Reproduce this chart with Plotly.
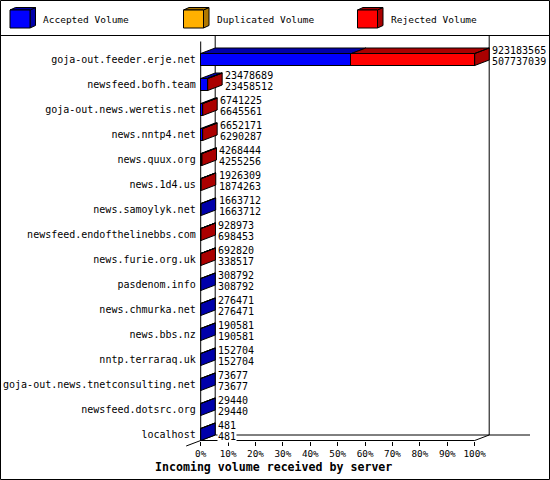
import plotly.graph_objects as go

# ---------------- data ----------------
hosts = [
    "goja-out.feeder.erje.net",
    "newsfeed.bofh.team",
    "goja-out.news.weretis.net",
    "news.nntp4.net",
    "news.quux.org",
    "news.1d4.us",
    "news.samoylyk.net",
    "newsfeed.endofthelinebbs.com",
    "news.furie.org.uk",
    "pasdenom.info",
    "news.chmurka.net",
    "news.bbs.nz",
    "nntp.terraraq.uk",
    "goja-out.news.tnetconsulting.net",
    "newsfeed.dotsrc.org",
    "localhost",
]
total_volume = [923183565, 23478689, 6741225, 6652171, 4268444, 1926309, 1663712,
                928973, 692820, 308792, 276471, 190581, 152704, 73677, 29440, 481]
accepted_volume = [507737039, 23458512, 6645561, 6290287, 4255256, 1874263, 1663712,
                   698453, 338517, 308792, 276471, 190581, 152704, 73677, 29440, 481]
duplicated_volume = [0, 0, 0, 0, 0, 0, 0, 0, 0, 0, 0, 0, 0, 0, 0, 0]
series_names = ["Accepted Volume", "Duplicated Volume", "Rejected Volume"]
tick_values = [0, 10, 20, 30, 40, 50, 60, 70, 80, 90, 100]
tick_labels = ["0%", "10%", "20%", "30%", "40%", "50%", "60%", "70%", "80%", "90%", "100%"]
x_title = "Incoming volume received by server"

# ---------------- styles ----------------
FRONT = ["#0000ff", "#ffb000", "#ff0000"]
DARK = ["#0000aa", "#b07800", "#aa0000"]
MONO = "DejaVu Sans Mono"
W, H = 550, 480
ML, MR, MT, MB = 180, 20, 36, 28
PW, PH = W - ML - MR, H - MT - MB
PX_PER_PCT = 2.74
X0_PX = 200.7
ROW_PX = 25.0
ROW0_PX = 59.5
DX = 14.5 / PX_PER_PCT      # depth in x (percent units)
DY = 5.5 / ROW_PX           # depth in y (row units)
HALF = 0.24                 # half bar thickness

x_lo = -(X0_PX - ML) / PX_PER_PCT
x_hi = x_lo + PW / PX_PER_PCT
y_top = (MT - ROW0_PX) / ROW_PX
y_bot = (H - MB - ROW0_PX) / ROW_PX


def px(x):
    return (x - ML) / PW


def py(y):
    return (H - MB - y) / PH


vmax = max(total_volume)
n = len(hosts)
idx = list(range(n))
acc_pct = [a / vmax * 100 for a in accepted_volume]
dup_pct = [d / vmax * 100 for d in duplicated_volume]
rej_pct = [(t - a - d) / vmax * 100 for t, a, d in zip(total_volume, accepted_volume, duplicated_volume)]
tot_pct = [t / vmax * 100 for t in total_volume]

fig = go.Figure()

# front faces
for k, (name, vals) in enumerate(zip(series_names, [acc_pct, dup_pct, rej_pct])):
    fig.add_trace(go.Bar(
        y=idx, x=vals, orientation="h", width=2 * HALF, name=name,
        marker=dict(color=FRONT[k], line=dict(color="black", width=0 if k == 1 else 1)),
        showlegend=False, hoverinfo="skip",
    ))

# 3D top and side faces
polys = {0: ([], []), 1: ([], []), 2: ([], [])}
for i in idx:
    segs = []
    start = 0.0
    for k, v in enumerate([acc_pct[i], dup_pct[i], rej_pct[i]]):
        segs.append((start, start + v, k, v))
        start += v
    yt = i - HALF
    yb = i + HALF
    last_k = 0
    for s, e, k, v in segs:
        if v <= 0:
            continue
        last_k = k
        xs, ys = polys[k]
        xs += [s, e, e + DX, s + DX, s, None]
        ys += [yt, yt, yt - DY, yt - DY, yt, None]
    e = tot_pct[i]
    xs, ys = polys[last_k]
    xs += [e, e, e + DX, e + DX, e, None]
    ys += [yt, yb, yb - DY, yt - DY, yt, None]

for k in range(3):
    xs, ys = polys[k]
    if xs:
        fig.add_trace(go.Scatter(
            x=xs, y=ys, mode="lines", fill="toself", fillcolor=DARK[k],
            line=dict(color="black", width=1), showlegend=False, hoverinfo="skip",
        ))

# walls / floor (data-referenced shapes below traces)
floor_front = n - 1 + HALF
floor_back = floor_front - DY
wall_lines = [
    (DX, y_top, DX, floor_back),
    (0, y_top + DY, 0, floor_front),
    (100 + DX, y_top, 100 + DX, floor_back),
    (DX, floor_back, x_hi, floor_back),
    (0, floor_front, 100, floor_front),
    (-DX, floor_front + DY, DX, floor_back),
    (100, floor_front, 100 + DX, floor_back),
]
shapes = []
for a, b, c, d in wall_lines:
    shapes.append(dict(type="line", xref="x", yref="y", x0=a, y0=b, x1=c, y1=d,
                       line=dict(color="black", width=1), layer="below"))

# border and separator
shapes.append(dict(type="rect", xref="paper", yref="paper", x0=px(0.5), x1=px(549.5),
                   y0=py(0.5), y1=py(479.5), line=dict(color="black", width=1)))
shapes.append(dict(type="line", xref="paper", yref="paper", x0=px(0), x1=px(550),
                   y0=py(35.5), y1=py(35.5), line=dict(color="black", width=1)))

annotations = []
# legend with 3D cubes
leg_x = [10, 183.5, 357.5]
for k, name in enumerate(series_names):
    x0 = leg_x[k]
    fx0, fx1, fy0, fy1 = x0, x0 + 20, 10, 28
    ddx, ddy = 5.5, 2.5
    shapes.append(dict(type="path", xref="paper", yref="paper",
                       path=f"M{px(fx1)},{py(fy0)} L{px(fx1+ddx)},{py(fy0-ddy)} L{px(fx1+ddx)},{py(fy1-ddy)} L{px(fx1)},{py(fy1)} Z",
                       fillcolor=DARK[k], line=dict(color="black", width=1)))
    shapes.append(dict(type="path", xref="paper", yref="paper",
                       path=f"M{px(fx0)},{py(fy0)} L{px(fx0+ddx)},{py(fy0-ddy)} L{px(fx1+ddx)},{py(fy0-ddy)} L{px(fx1)},{py(fy0)} Z",
                       fillcolor=DARK[k], line=dict(color="black", width=1)))
    shapes.append(dict(type="rect", xref="paper", yref="paper", x0=px(fx0), x1=px(fx1),
                       y0=py(fy0), y1=py(fy1), fillcolor=FRONT[k], line=dict(color="black", width=1)))
    annotations.append(dict(text=name, xref="paper", yref="paper", x=px(x0 + 31), y=py(20),
                            xanchor="left", yanchor="middle", showarrow=False,
                            font=dict(family=MONO, size=9.5, color="black")))

# value labels
for i in idx:
    annotations.append(dict(text=str(total_volume[i]), x=tot_pct[i] + DX, y=i - 0.38,
                            xref="x", yref="y", xanchor="left", yanchor="middle", xshift=2,
                            showarrow=False, borderpad=0,
                            font=dict(family=MONO, size=10, color="black")))
    annotations.append(dict(text=str(accepted_volume[i]), x=tot_pct[i] + DX, y=i + 0.06,
                            xref="x", yref="y", xanchor="left", yanchor="middle", xshift=2,
                            showarrow=False, borderpad=0, bgcolor="white",
                            font=dict(family=MONO, size=10, color="black")))

# x title
annotations.append(dict(text="<b>" + x_title + "</b>", xref="paper", yref="paper",
                        x=px(273.5), y=py(466.5), xanchor="center", yanchor="middle",
                        showarrow=False, font=dict(family=MONO, size=11.6, color="black")))

fig.update_layout(
    template="none",
    width=W, height=H, margin=dict(l=ML, r=MR, t=MT, b=MB, pad=0, autoexpand=False),
    paper_bgcolor="white", plot_bgcolor="white", barmode="stack", bargap=0,
    showlegend=False, shapes=shapes, annotations=annotations,
    xaxis=dict(range=[x_lo, x_hi], tickvals=tick_values, ticktext=tick_labels,
               ticks="outside", ticklen=4, tickcolor="black", tickwidth=1, showgrid=False,
               zeroline=False, showline=False, anchor="free", automargin=False,
               position=(H - MB - (ROW0_PX + ROW_PX * floor_front)) / PH,
               tickfont=dict(family=MONO, size=9.3, color="black")),
    yaxis=dict(range=[y_bot, y_top], tickvals=idx, ticktext=hosts, ticks="",
               showgrid=False, zeroline=False, showline=False, anchor="free",
               automargin=False, ticklabelstandoff=5,
               position=(X0_PX - ML) / PW,
               tickfont=dict(family=MONO, size=10, color="black")),
)

fig.write_html("out.html", config={"displayModeBar": False},
               post_script="document.body.style.margin='0';")
